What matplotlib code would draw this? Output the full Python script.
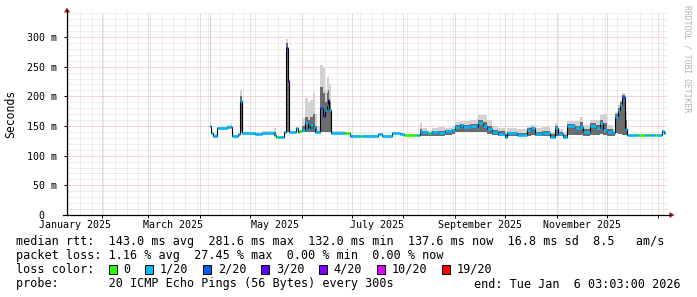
import numpy as np
import matplotlib
matplotlib.use('Agg')
import matplotlib.pyplot as plt
from matplotlib.patches import Polygon, Rectangle
from matplotlib.lines import Line2D

W, H = 697, 297
MONO = 'DejaVu Sans Mono'

# days since 2025-01-01 00:00 where each step starts (12h-ish resolution)
day = [95.9, 96.5, 97.7, 100.1, 106.1, 108.5, 109.1, 112.7, 113.9, 115.1,
       122.9, 127.1, 134.3, 135.5, 136.7, 140.3, 141.5, 142.7, 143.3, 147.5,
       148.7, 149.3, 151.1, 152.9, 154.7, 155.9, 157.7, 158.9, 160.1, 161.9,
       163.7, 164.9, 166.1, 166.7, 167.3, 168.5, 176.9, 179.9, 185.9, 187.1,
       196.7, 199.1, 205.1, 209.9, 212.3, 220.1, 221.9, 223.1, 226.1, 227.3,
       228.5, 229.1, 232.7, 236.9, 241.1, 242.9, 245.9, 247.7, 251.9, 256.1,
       256.7, 259.7, 262.1, 265.1, 268.7, 272.9, 274.1, 280.1, 286.1, 288.5,
       290.9, 295.1, 299.9, 302.9, 304.7, 307.7, 310.1, 314.9, 317.9, 319.7,
       323.9, 327.5, 329.9, 331.7, 334.1, 337.7, 338.9, 340.7, 341.9, 343.1,
       344.9, 346.1, 352.7, 356.9, 358.7, 359.9, 362.9, 364.1, 367.1, 368.3]
day_end = 368.9

# median rtt in ms
median_ms = [150, 138, 134, 147, 149, 148, 133, 137, 192, 138,
             137, 138, 135, 132, 132, 140, 281, 226, 140, 146,
             140, 141, 143, 155, 145, 152, 147, 140, 140, 180,
             167, 177, 185, 194, 177, 138, 138.7, 133, 133.5, 133.5,
             136, 133.7, 138.7, 136, 135, 135, 140, 140, 137.7, 137.7,
             138, 140.4, 137.7, 141, 143, 149, 151.7, 148.8, 150, 148,
             155, 150, 145, 140, 137, 132, 137.7, 135, 143, 147,
             136, 139, 132, 146, 136, 132, 150, 146, 149, 140,
             150, 146, 155, 143, 140, 138, 166, 175, 185, 199,
             145, 134.8, 134.8, 134.8, 134.8, 134.8, 134.8, 134.8, 142, 138]

# smoke: lowest ping, top of the dark part, highest ping (ms)
smoke_lo = [150, 138, 134, 147, 149, 148, 133, 137, 140, 138,
            137, 138, 135, 132, 132, 140, 140, 140, 140, 146,
            140, 141, 140, 140, 140, 140, 140, 139, 139, 140,
            140, 140, 140, 140, 140, 138, 138.7, 133, 133.5, 133.5,
            136, 133.7, 138.7, 136, 135, 135, 134, 134, 134, 134,
            134, 134, 134, 135, 136, 140, 140, 140, 140, 140,
            140, 140, 137, 135, 134, 132, 133, 133, 134, 135,
            133, 133, 132, 134, 133, 132, 135, 135, 135, 134,
            135, 135, 136, 135, 134, 134, 138, 137, 136, 135,
            135, 134.8, 134.8, 134.8, 134.8, 134.8, 134.8, 134.8, 142, 138]
smoke_mid = [150, 138, 134, 147, 149, 150, 133, 137, 200, 138,
             137, 138, 140, 132, 132, 140, 290, 226, 140, 146,
             140, 141, 150, 165, 160, 165, 170, 150, 142, 215,
             205, 190, 205, 210, 190, 138, 138.7, 133, 133.5, 133.5,
             136, 133.7, 138.7, 136, 135, 135, 145, 142, 139, 139,
             140, 142, 141, 143, 145, 152, 154, 152, 154, 154,
             160, 157, 150, 143, 141, 136, 140, 139, 147, 148,
             140, 142, 136, 150, 140, 135, 153, 150, 156, 145,
             155, 152, 160, 155, 145, 140, 170, 180, 190, 202,
             160, 134.8, 134.8, 134.8, 134.8, 134.8, 134.8, 134.8, 142, 138]
smoke_hi = [337, 140, 136, 149, 151, 155, 135, 139, 211, 140,
            140, 141, 146, 134, 134, 142, 297, 230, 142, 148,
            142, 143, 163, 197, 190, 194, 205, 170, 150, 253,
            250, 211, 233, 233, 220, 141, 140, 135, 135, 135,
            138, 135, 140, 138, 137, 137, 155, 146, 143, 142,
            144, 147, 149, 147, 150, 156, 158, 158, 160, 163,
            168, 168, 160, 150, 147, 142, 146, 145, 150, 152,
            146, 148, 140, 155, 145, 140, 158, 158, 166, 152,
            160, 160, 168, 171, 152, 145, 174, 185, 194, 205,
            175, 137, 137, 137, 137, 137, 137, 137, 144, 140]

# loss class index per step (0 = no loss, 1 = 1/20, ...)
loss = [1, 1, 1, 1, 1, 1, 1, 1, 1, 1,
        1, 1, 1, 0, 1, 1, 3, 3, 1, 1,
        1, 0, 1, 1, 1, 1, 1, 1, 1, 2,
        3, 1, 1, 3, 1, 1, 0, 1, 0, 1,
        1, 1, 1, 1, 0, 1, 1, 1, 1, 0,
        1, 1, 1, 1, 1, 1, 1, 1, 1, 1,
        1, 1, 1, 1, 1, 1, 1, 1, 1, 1,
        1, 1, 1, 1, 1, 1, 1, 1, 1, 1,
        1, 1, 1, 1, 1, 1, 1, 1, 1, 2,
        1, 1, 0, 1, 0, 1, 0, 1, 1, 1]

loss_colors = ['#26ff00', '#00b8ff', '#0059ff', '#5e00ff', '#7e00ff', '#dd00ff', '#ff0000']
loss_labels = ['0', '1/20', '2/20', '3/20', '4/20', '10/20', '19/20']

month_labels = ['January 2025', 'March 2025', 'May 2025', 'July 2025',
                'September 2025', 'November 2025']
month_label_dates = ['2025-01-16', '2025-03-16', '2025-05-16', '2025-07-16',
                     '2025-09-16', '2025-11-16']
ytick_vals = [0, 50, 100, 150, 200, 250, 300]
ytick_labels = ['0  ', '50 m', '100 m', '150 m', '200 m', '250 m', '300 m']

legend_rtt = 'median rtt:  143.0 ms avg  281.6 ms max  132.0 ms min  137.6 ms now  16.8 ms sd  8.5   am/s'
legend_loss = 'packet loss: 1.16 % avg  27.45 % max  0.00 % min  0.00 % now'
legend_probe = 'probe:       20 ICMP Echo Pings (56 Bytes) every 300s'
legend_end = 'end: Tue Jan  6 03:03:00 2026'


def to_date(d):
  mins = (np.asarray(d, dtype=float) * 1440).round().astype('int64')
  return np.datetime64('2025-01-01T00:00') + mins.astype('timedelta64[m]')


def fpx(x, y):
  return (x / W, 1 - y / H)


fig = plt.figure(figsize=(W / 100, H / 100), dpi=100)
fig.patch.set_facecolor('white')
ax = fig.add_axes([67 / W, 1 - 215 / H, 600 / W, 202 / H])
ax.set_facecolor('white')
x0 = np.datetime64('2025-01-11T03:03')
x1 = np.datetime64('2026-01-06T03:03')
ax.set_xlim(x0, x1)
ax.set_ylim(0, 340.5)
for s in ax.spines.values():
  s.set_visible(False)

# grid, 1px dotted like rrdtool
gkw = dict(lw=0.72, ls=(0, (1, 1)))
weeks = np.arange(np.datetime64('2025-01-12'), x1, np.timedelta64(7, 'D'))
for w in weeks:
  ax.axvline(w, color='#dddddd', zorder=0.4, **gkw)
for v in range(10, 341, 10):
  if v % 50:
    ax.axhline(v, color='#dddddd', zorder=0.4, **gkw)
months = np.arange(np.datetime64('2025-02'), np.datetime64('2026-02'), np.timedelta64(1, 'M')).astype('datetime64[D]')
for m in months:
  ax.axvline(m, color='#ebb2b2', zorder=0.5, **gkw)
for v in range(50, 301, 50):
  ax.axhline(v, color='#ebb2b2', zorder=0.5, **gkw)

# smoke
d = to_date(day + [day_end])
lo = smoke_lo + [smoke_lo[-1]]
mid = smoke_mid + [smoke_mid[-1]]
hi = smoke_hi + [smoke_hi[-1]]
ax.fill_between(d, lo, hi, step='post', color='#d2d2d2', lw=0, zorder=1)
ax.fill_between(d, lo, mid, step='post', color='#6c6c6c', lw=0, zorder=1.1)

# median: black step connectors, then loss-coloured steps
med = median_ms + [median_ms[-1]]
ax.plot(d, med, drawstyle='steps-post', color='black', lw=0.8, zorder=2)
ax.hlines(median_ms, d[:-1], d[1:], colors=[loss_colors[i] for i in loss], lw=1.9, zorder=3)

# ticks and labels
ax.set_xticks(months[months < x1])
ax.set_xticklabels([])
ax.tick_params(axis='x', length=2, width=0.7, direction='out', color='black')
ax.set_yticks(ytick_vals)
ax.set_yticklabels(ytick_labels, fontfamily=MONO, fontsize=7.2)
ax.tick_params(axis='y', length=2, width=0.7, pad=5, direction='out', color='black')
for lab, ds in zip(month_labels, month_label_dates):
  ax.text(np.datetime64(ds), -10 / 202, lab, transform=ax.get_xaxis_transform(),
          ha='center', va='center', fontfamily=MONO, fontsize=7.2, clip_on=False)

# axes with arrows
fig.add_artist(Line2D([fpx(67, 215)[0], fpx(67, 10)[0]], [fpx(67, 215)[1], fpx(67, 10)[1]],
                      transform=fig.transFigure, color='black', lw=0.9))
fig.add_artist(Line2D([fpx(63, 215)[0], fpx(670, 215)[0]], [fpx(63, 215)[1], fpx(670, 215)[1]],
                      transform=fig.transFigure, color='black', lw=0.9))
fig.add_artist(Polygon([fpx(67, 7.5), fpx(64, 12.5), fpx(70, 12.5)], closed=True,
                       transform=fig.transFigure, color='#a01818', lw=0))
fig.add_artist(Polygon([fpx(674.5, 215), fpx(669.5, 212), fpx(669.5, 218)], closed=True,
                       transform=fig.transFigure, color='#a01818', lw=0))

fig.text(*fpx(11, 114), 'Seconds', rotation=90, ha='center', va='center',
         fontfamily=MONO, fontsize=8.3)
fig.text(*fpx(686.5, 5), 'RRDTOOL / TOBI OETIKER', rotation=270, ha='center', va='top',
         fontfamily=MONO, fontsize=5.9, color='#b4b4b4')

# legend
fs = 8.5
cw = 7.15
fig.text(*fpx(16, 241), legend_rtt, ha='left', va='center', fontfamily=MONO, fontsize=fs)
fig.text(*fpx(16, 255.5), legend_loss, ha='left', va='center', fontfamily=MONO, fontsize=fs)
fig.text(*fpx(16, 269.5), 'loss color:', ha='left', va='center', fontfamily=MONO, fontsize=fs)
fig.text(*fpx(16, 284), legend_probe, ha='left', va='center', fontfamily=MONO, fontsize=fs)
fig.text(*fpx(681, 284), legend_end, ha='right', va='center', fontfamily=MONO, fontsize=fs)
px = 108.5
for col, lab in zip(loss_colors, loss_labels):
  bx, by = fpx(px, 273.5)
  fig.add_artist(Rectangle((bx, by), 8.5 / W, 8.5 / H, transform=fig.transFigure,
                           facecolor=col, edgecolor='black', lw=0.7))
  fig.text(*fpx(px + 15, 269.5), lab, ha='left', va='center', fontfamily=MONO, fontsize=fs)
  px = px + 15 + (len(lab) + 2) * cw

fig.savefig('out.png', dpi=100, facecolor='white')
